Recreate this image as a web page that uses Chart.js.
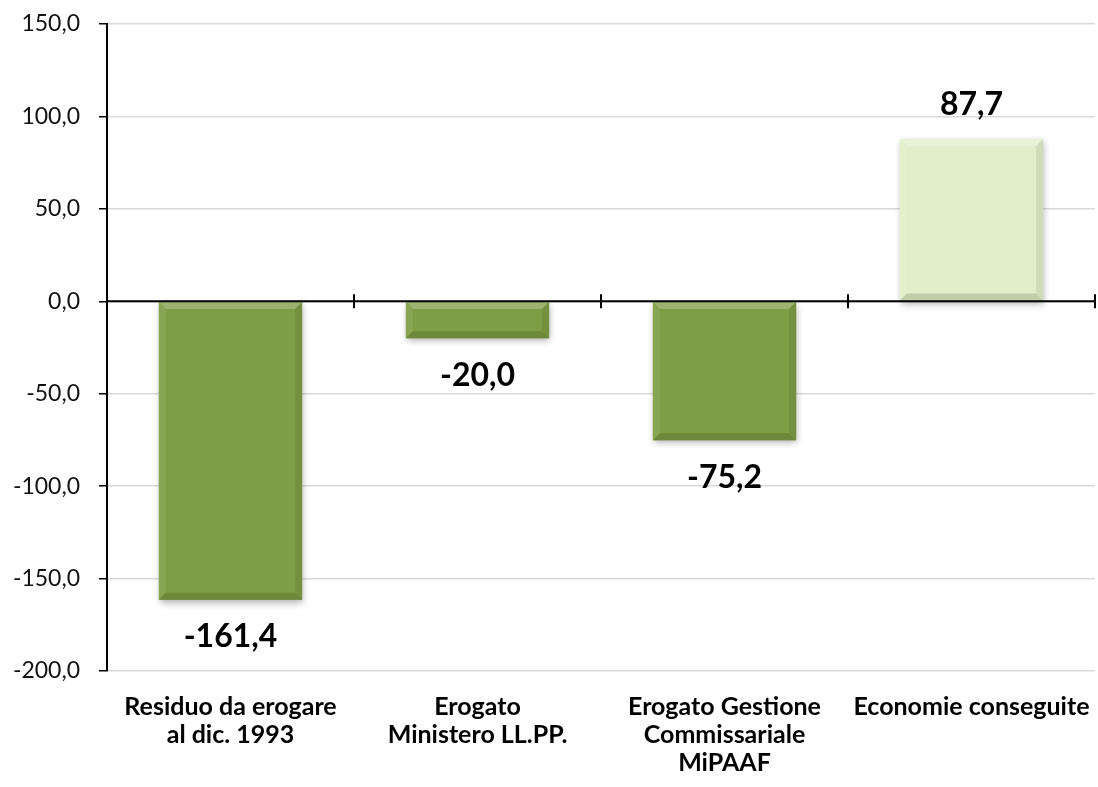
<!DOCTYPE html>
<html>
<head>
<meta charset="utf-8">
<script src="https://cdn.jsdelivr.net/npm/chart.js@4/dist/chart.umd.min.js"></script>
<style>
  html, body { margin: 0; padding: 0; background: #ffffff; }
  #wrap { width: 1098px; height: 787px; position: relative; }
</style>
</head>
<body>
<div id="wrap"><canvas id="c" width="1098" height="787"></canvas></div>
<script>
const categories = [
  ["Residuo da erogare", "al dic. 1993"],
  ["Erogato", "Ministero LL.PP."],
  ["Erogato Gestione", "Commissariale", "MiPAAF"],
  ["Economie conseguite"]
];
const values = [-161.4, -20.0, -75.2, 87.7];
const barColors = ["#7f9d45", "#7f9d45", "#7f9d45", "#e2eec9"];
const yMin = -200, yMax = 150, yStep = 50;

const FONT = "Lato, 'Open Sans', sans-serif";
const fmt = v => v.toFixed(1).replace('.', ',');

function shade(hex, amt) {
  const n = parseInt(hex.slice(1), 16);
  let r = (n >> 16) & 255, g = (n >> 8) & 255, b = n & 255;
  const f = c => Math.max(0, Math.min(255, Math.round(amt >= 0 ? c + (255 - c) * amt : c * (1 + amt))));
  return `rgb(${f(r)},${f(g)},${f(b)})`;
}

const bevelPlugin = {
  id: 'bevel',
  beforeDatasetsDraw(chart) {
    const ctx = chart.ctx;
    ctx.save();
    ctx.shadowColor = 'rgba(0,0,0,0.3)';
    ctx.shadowBlur = 7;
    ctx.shadowOffsetX = 1;
    ctx.shadowOffsetY = 3;
  },
  afterDatasetsDraw(chart) {
    const ctx = chart.ctx;
    ctx.restore();
    const meta = chart.getDatasetMeta(0);
    meta.data.forEach((bar, i) => {
      const p = bar.getProps(['x', 'y', 'base', 'width'], true);
      const l = p.x - p.width / 2, r = p.x + p.width / 2;
      const t = Math.min(p.y, p.base), b = Math.max(p.y, p.base);
      const d = Math.min(7, (b - t) / 2);
      const c = barColors[i];
      ctx.save();
      ctx.fillStyle = shade(c, 0.22);
      ctx.beginPath(); ctx.moveTo(l, t); ctx.lineTo(r, t); ctx.lineTo(r - d, t + d); ctx.lineTo(l + d, t + d); ctx.closePath(); ctx.fill();
      ctx.fillStyle = shade(c, 0.08);
      ctx.beginPath(); ctx.moveTo(l, t); ctx.lineTo(l + d, t + d); ctx.lineTo(l + d, b - d); ctx.lineTo(l, b); ctx.closePath(); ctx.fill();
      ctx.fillStyle = shade(c, -0.08);
      ctx.beginPath(); ctx.moveTo(r, t); ctx.lineTo(r, b); ctx.lineTo(r - d, b - d); ctx.lineTo(r - d, t + d); ctx.closePath(); ctx.fill();
      ctx.fillStyle = shade(c, -0.14);
      ctx.beginPath(); ctx.moveTo(l, b); ctx.lineTo(r, b); ctx.lineTo(r - d, b - d); ctx.lineTo(l + d, b - d); ctx.closePath(); ctx.fill();
      ctx.restore();
    });
  }
};

const axisPlugin = {
  id: 'zeroAxis',
  afterDatasetsDraw(chart) {
    const ctx = chart.ctx;
    const xs = chart.scales.x, ys = chart.scales.y;
    const y0 = ys.getPixelForValue(0);
    ctx.save();
    ctx.strokeStyle = '#000';
    ctx.lineWidth = 2;
    ctx.beginPath();
    ctx.moveTo(xs.left, y0); ctx.lineTo(xs.right, y0);
    const n = categories.length;
    for (let i = 1; i <= n; i++) {
      const xp = Math.round(xs.left + (xs.right - xs.left) * i / n);
      ctx.moveTo(xp, y0 - 7); ctx.lineTo(xp, y0 + 7);
    }
    ctx.stroke();
    ctx.restore();
  }
};

const labelPlugin = {
  id: 'valueLabels',
  afterDraw(chart) {
    const ctx = chart.ctx;
    const meta = chart.getDatasetMeta(0);
    ctx.save();
    ctx.font = `bold 32px ${FONT}`;
    ctx.fillStyle = '#000';
    ctx.textAlign = 'center';
    ctx.textBaseline = 'middle';
    meta.data.forEach((bar, i) => {
      const v = values[i];
      const yy = v < 0 ? bar.y + 37 : bar.y - 34;
      ctx.fillText(fmt(v), bar.x, yy);
    });
    ctx.restore();
  }
};

new Chart(document.getElementById('c'), {
  type: 'bar',
  data: {
    labels: categories,
    datasets: [{
      data: values,
      backgroundColor: barColors,
      borderWidth: 0,
      categoryPercentage: 1.0,
      barPercentage: 0.58
    }]
  },
  options: {
    responsive: false,
    animation: false,
    devicePixelRatio: 1,
    layout: { padding: { top: 24, right: 3, left: 0, bottom: 0 } },
    plugins: { legend: { display: false }, tooltip: { enabled: false } },
    scales: {
      x: {
        grid: { display: false, drawTicks: false },
        border: { display: false },
        afterFit(scale) { scale.height = 116; scale.paddingRight = 0; scale.paddingLeft = 0; },
        ticks: {
          color: '#000',
          font: { family: FONT, size: 25, weight: 'bold', lineHeight: 1.12 },
          maxRotation: 0, autoSkip: false, padding: 22
        }
      },
      y: {
        min: yMin, max: yMax,
        afterFit(scale) { scale.width = 107; scale.paddingTop = 0; scale.paddingBottom = 0; },
        grid: { color: '#d9d9d9', lineWidth: 1.5, tickColor: '#000', tickLength: 8 },
        border: { display: true, color: '#000', width: 2 },
        ticks: {
          stepSize: yStep,
          color: '#111',
          font: { family: FONT, size: 23 },
          padding: 19,
          callback: v => fmt(v)
        }
      }
    }
  },
  plugins: [bevelPlugin, axisPlugin, labelPlugin]
});
</script>
</body>
</html>
